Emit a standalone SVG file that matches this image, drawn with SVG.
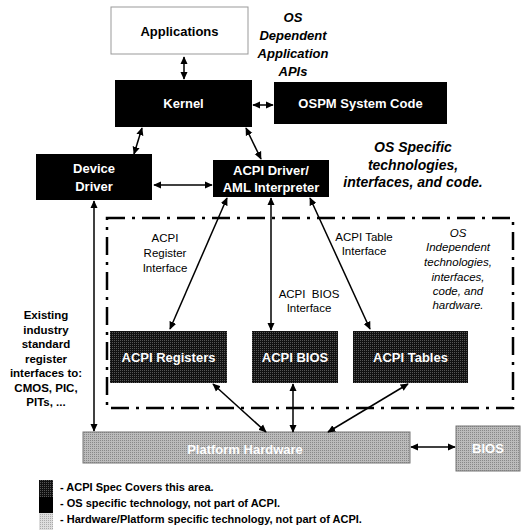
<svg xmlns="http://www.w3.org/2000/svg" width="522" height="530" viewBox="0 0 522 530">
<defs>
<style>
.lbl{font-family:"Liberation Sans",Arial,sans-serif;font-weight:bold;font-size:13px;text-anchor:middle}
.wt{fill:#fff}
.bk{fill:#000}
.os{fill:#000;stroke:none}
.note{font-family:"Liberation Sans",Arial,sans-serif;font-weight:bold;font-style:italic;text-anchor:middle;fill:#000}
.small{font-family:"Liberation Sans",Arial,sans-serif;font-size:11.5px;text-anchor:middle;fill:#000}
.conn line{stroke:#000;stroke-width:1.5;marker-start:url(#ah);marker-end:url(#ah)}
.leg{font-family:"Liberation Sans",Arial,sans-serif;font-size:11px;font-weight:bold;fill:#000}
</style>
<marker id="ah" viewBox="0 0 10 10" refX="9" refY="5" markerWidth="8" markerHeight="8" orient="auto-start-reverse" markerUnits="userSpaceOnUse">
<path d="M0,0.5 L10,5 L0,9.5 z" fill="#000"/>
</marker>
<pattern id="dith" width="2" height="2" patternUnits="userSpaceOnUse">
<rect width="2" height="2" fill="#bbb"/>
<rect width="1" height="1" fill="#888"/>
</pattern>
<pattern id="dithl" width="2" height="2" patternUnits="userSpaceOnUse">
<rect width="2" height="2" fill="#ddd"/>
<rect width="1" height="1" fill="#aaa"/>
</pattern>
<pattern id="dithd" width="2" height="2" patternUnits="userSpaceOnUse">
<rect width="2" height="2" fill="#111"/>
<rect width="1" height="1" fill="#555"/>
</pattern>
</defs>
<rect width="522" height="530" fill="#fff"/>

<g id="os-region">
<rect x="107" y="218" width="406" height="190" fill="none" stroke="#000" stroke-width="2.5" stroke-dasharray="18 7 3 7"/>
</g>

<g id="applications">
<rect x="111" y="7" width="137" height="47" fill="#fff" stroke="#999" stroke-width="1"/>
<text class="lbl bk" x="179.5" y="36">Applications</text>
</g>
<g id="kernel">
<rect x="115" y="80" width="137" height="47" class="os"/>
<text class="lbl wt" x="183.5" y="108">Kernel</text>
</g>
<g id="ospm">
<rect x="274" y="82" width="173" height="42" class="os"/>
<text class="lbl wt" x="360.5" y="108">OSPM System Code</text>
</g>
<g id="device-driver">
<rect x="36" y="154" width="116" height="46" class="os"/>
<text class="lbl wt" x="94" y="173">Device</text>
<text class="lbl wt" x="94" y="191">Driver</text>
</g>
<g id="acpi-driver">
<rect x="213" y="160" width="116" height="37" class="os"/>
<text class="lbl wt" x="271" y="175">ACPI Driver/</text>
<text class="lbl wt" x="271" y="192">AML Interpreter</text>
</g>
<g id="acpi-registers">
<rect x="110" y="331" width="117" height="52" fill="url(#dithd)"/>
<text class="lbl wt" x="168.5" y="362">ACPI Registers</text>
</g>
<g id="acpi-bios">
<rect x="252" y="331" width="86" height="52" fill="url(#dithd)"/>
<text class="lbl wt" x="295" y="362">ACPI BIOS</text>
</g>
<g id="acpi-tables">
<rect x="353" y="331" width="115" height="52" fill="url(#dithd)"/>
<text class="lbl wt" x="410.5" y="362">ACPI Tables</text>
</g>
<g id="platform-hardware">
<rect x="83" y="432" width="327" height="31" fill="url(#dith)" stroke="#777" stroke-width="1"/>
<text class="lbl wt" x="245" y="454">Platform Hardware</text>
</g>
<g id="bios">
<rect x="456" y="426" width="64" height="45" fill="url(#dith)" stroke="#777" stroke-width="1"/>
<text class="lbl wt" x="488" y="453">BIOS</text>
</g>

<g class="conn" id="connectors">
<line x1="184" y1="57" x2="184" y2="79"/>
<line x1="253" y1="105" x2="273" y2="105"/>
<line x1="142" y1="128" x2="134" y2="154"/>
<line x1="246" y1="128" x2="261" y2="159"/>
<line x1="154" y1="185" x2="212" y2="185"/>
<line x1="94" y1="201" x2="94" y2="431"/>
<line x1="227" y1="198" x2="170" y2="329"/>
<line x1="271" y1="198" x2="271" y2="330"/>
<line x1="310" y1="198" x2="370" y2="329"/>
<line x1="213" y1="384" x2="266" y2="432"/>
<line x1="293" y1="384" x2="293" y2="432"/>
<line x1="408" y1="384" x2="328" y2="432"/>
<line x1="411" y1="447" x2="455" y2="447"/>
</g>

<g id="notes">
<text class="note" font-size="13" x="293" y="22">OS</text>
<text class="note" font-size="13" x="293" y="40">Dependent</text>
<text class="note" font-size="13" x="293" y="58">Application</text>
<text class="note" font-size="13" x="293" y="76">APIs</text>
<text class="note" font-size="14" x="413" y="152">OS Specific</text>
<text class="note" font-size="14" x="413" y="170">technologies,</text>
<text class="note" font-size="14" x="413" y="187">interfaces, and code.</text>
<g font-style="italic">
<text class="small" x="458" y="237">OS</text>
<text class="small" x="458" y="251">Independent</text>
<text class="small" x="458" y="266">technologies,</text>
<text class="small" x="458" y="281">interfaces,</text>
<text class="small" x="458" y="295">code, and</text>
<text class="small" x="458" y="309">hardware.</text>
</g>
<text class="small" x="165" y="242">ACPI</text>
<text class="small" x="165" y="257">Register</text>
<text class="small" x="165" y="272">Interface</text>
<text class="small" x="364" y="241">ACPI Table</text>
<text class="small" x="364" y="255">Interface</text>
<text class="small" x="309" y="298" xml:space="preserve">ACPI  BIOS</text>
<text class="small" x="309" y="312">Interface</text>
<g font-weight="bold">
<text class="small" font-size="12" x="46" y="319">Existing</text>
<text class="small" font-size="12" x="46" y="334">industry</text>
<text class="small" font-size="12" x="46" y="348">standard</text>
<text class="small" font-size="12" x="46" y="363">register</text>
<text class="small" font-size="12" x="46" y="377">interfaces to:</text>
<text class="small" font-size="12" x="46" y="392">CMOS, PIC,</text>
<text class="small" font-size="12" x="46" y="406">PITs, ...</text>
</g>
</g>

<g id="legend">
<rect x="39" y="480" width="14" height="17" fill="url(#dithd)"/>
<rect x="39" y="497" width="14" height="16" fill="#000"/>
<rect x="39" y="513" width="14" height="17" fill="url(#dithl)"/>
<text class="leg" x="60" y="491">- ACPI Spec Covers this area.</text>
<text class="leg" x="60" y="507">- OS specific technology, not part of ACPI.</text>
<text class="leg" x="60" y="523">- Hardware/Platform specific technology, not part of ACPI.</text>
</g>
</svg>
